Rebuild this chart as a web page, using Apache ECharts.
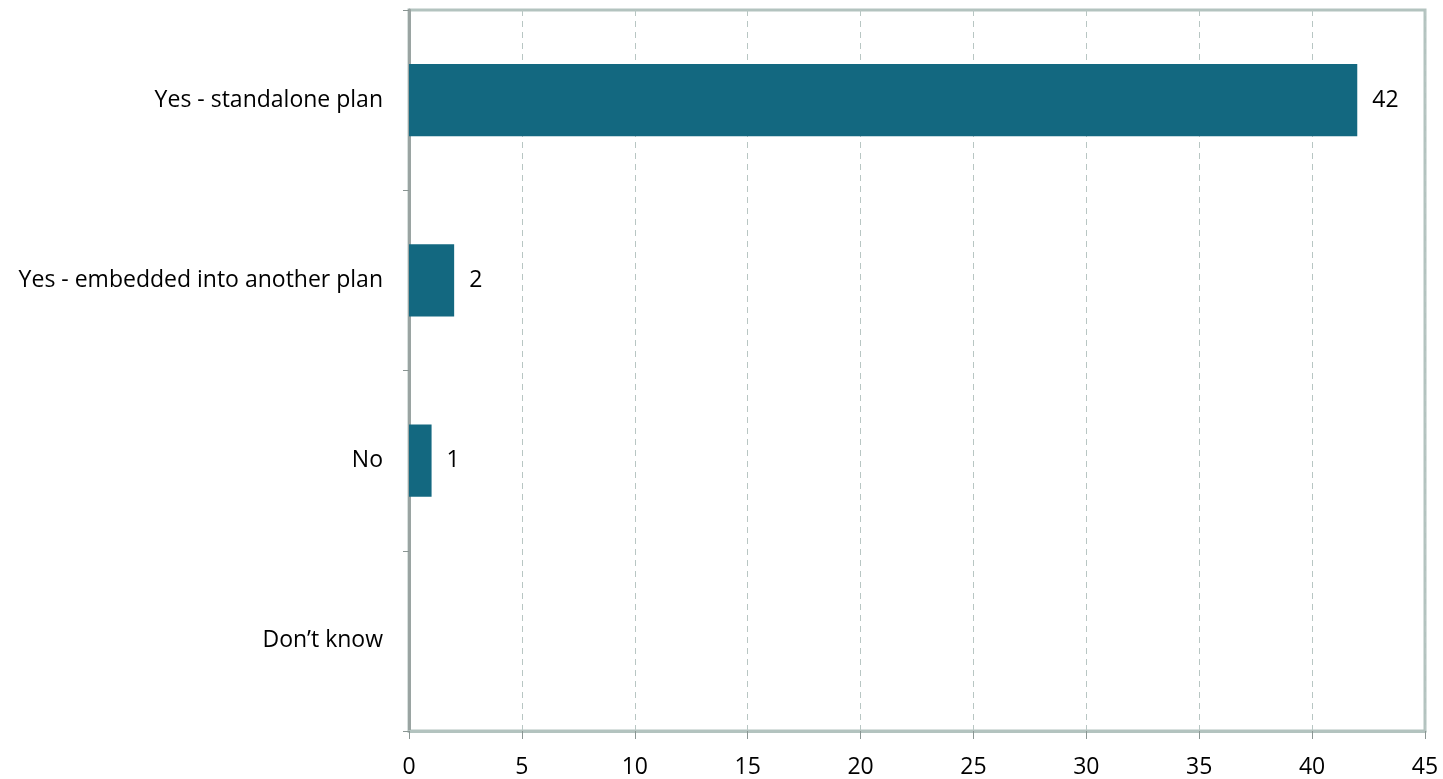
<!DOCTYPE html>
<html>
<head>
<meta charset="utf-8">
<script src="https://cdn.jsdelivr.net/npm/echarts@6/dist/echarts.min.js"></script>
<style>
html,body{margin:0;padding:0;background:#fff;}
#chart{width:1443px;height:779px;}
</style>
</head>
<body>
<div id="chart"></div>
<script>
const categories = ["Yes - standalone plan", "Yes - embedded into another plan", "No", "Don\u2019t know"];
const values = [42, 2, 1, 0];
const xTicks = [0, 5, 10, 15, 20, 25, 30, 35, 40, 45];

const chart = echarts.init(document.getElementById('chart'));
const font = "'Open Sans', sans-serif";
chart.setOption({
  animation: false,
  grid: {
    left: 409, right: 18, top: 10, bottom: 46,
    show: true, borderColor: '#b3c3bf', borderWidth: 3, backgroundColor: 'transparent'
  },
  xAxis: {
    type: 'value', min: xTicks[0], max: xTicks[xTicks.length - 1], interval: 5,
    axisLine: { show: true, lineStyle: { color: '#b3c3bf', width: 3 } },
    axisTick: { show: true, length: 8, lineStyle: { color: '#8a9593', width: 1 } },
    axisLabel: { color: '#000', fontSize: 23, fontFamily: font, margin: 25 },
    splitLine: { show: true, lineStyle: { color: '#b8c6c3', type: [6, 5], width: 1 } }
  },
  yAxis: {
    type: 'category', data: categories, inverse: true,
    axisLine: { show: true, lineStyle: { color: '#9aa4a2', width: 3 } },
    axisTick: { show: true, length: 6, lineStyle: { color: '#8a9593', width: 1 } },
    axisLabel: { color: '#000', fontSize: 23, fontFamily: font, margin: 26 },
    splitLine: { show: false }
  },
  series: [{
    type: 'bar', data: values, barWidth: '40%',
    itemStyle: { color: '#136880' },
    label: {
      show: true, position: 'right', distance: 15, color: '#000',
      fontSize: 23, fontFamily: font,
      formatter: p => p.value === 0 ? '' : p.value
    }
  }]
});
</script>
</body>
</html>
